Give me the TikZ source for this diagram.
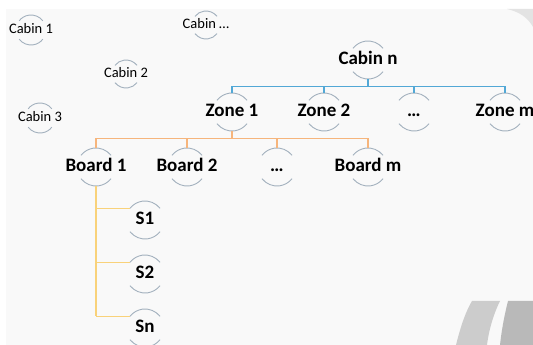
\documentclass[tikz,border=0pt]{standalone}
\usepackage{fontspec}
\setmainfont{Carlito}
\definecolor{arcgray}{HTML}{A3B1BE}
\definecolor{zoneblue}{HTML}{52A8D6}
\definecolor{boardorange}{HTML}{F6B57C}
\definecolor{sensoryellow}{HTML}{F9D27A}
\definecolor{pagebg}{HTML}{F9F9F9}
\begin{document}
\begin{tikzpicture}[x=1pt, y=1pt,
    lvl/.style={minimum height=38pt, inner sep=0pt, text height=12pt, text depth=2pt,
        font=\bfseries\fontsize{19}{21}\selectfont},
    cab/.style={minimum height=30pt, inner sep=0pt, text height=9pt, text depth=2pt,
        font=\fontsize{14.5}{16}\selectfont},
    arcline/.style={draw=arcgray, line width=.9pt},
    link/.style={line width=1.2pt}]
\useasboundingbox (0,0) rectangle (533,345);
\fill[white] (0,0) rectangle (533,345);
\fill[pagebg] (6,0) rectangle (533,336);
% corner decorations
\fill[gray!22] (507,336) .. controls (520,333) and (528,327) .. (533,318) -- (533,336) -- cycle;
\fill[gray!40] (456,0) .. controls (461,20) and (466,34) .. (472,44) -- (500,44) .. controls (494,32) and (489,16) .. (487,0) -- cycle;
\fill[gray!55] (500,0) .. controls (502,18) and (505,32) .. (508,44) -- (533,44) -- (533,0) -- cycle;

% cabins
\node[cab] (C1) at (31,315) {Cabin 1};
\node[cab] (Cd) at (206,320) {Cabin …};
\node[cab] (C2) at (126,271) {Cabin 2};
\node[cab] (C3) at (40,227) {Cabin 3};
\node[lvl] (Cn) at (368,285) {Cabin n};

% zones
\foreach \n/\x/\txt in {Z1/232/Zone 1, Z2/324/Zone 2, Zd/414/…, Zm/505/Zone m}
    \node[lvl] (\n) at (\x,233) {\txt};

% boards
\foreach \n/\x/\txt in {B1/96/Board 1, B2/187/Board 2, Bd/277/…, Bm/368/Board m}
    \node[lvl] (\n) at (\x,178) {\txt};

% sensors
\foreach \n/\y/\txt in {S1/125/S1, S2/71/S2, Sn/17/Sn}
    \node[lvl] (\n) at (145,\y) {\txt};

% the half circles round every node
\foreach \n/\r in {C1/15, Cd/14, C2/14, C3/15, Cn/19, Z1/19, Z2/19, Zd/19, Zm/19,
                   B1/19, B2/19, Bd/19, Bm/19, S1/19, S2/19, Sn/19}
{
    \draw[arcline] ([shift={(38:\r)}]\n.center) arc (38:142:\r) coordinate (\n-tl);
    \draw[arcline] ([shift={(218:\r)}]\n.center) arc (218:322:\r);
}

% cabin -> zones
\draw[link, zoneblue] (Cn.south) -- ++(0,-7) coordinate (zbus);
\draw[link, zoneblue] (Z1.north |- zbus) -- (Zm.north |- zbus);
\foreach \n in {Z1, Z2, Zd, Zm}
    \draw[link, zoneblue] (\n.north |- zbus) -- (\n.north);

% zone -> boards
\draw[link, boardorange] (Z1.south) -- ++(0,-7) coordinate (bbus);
\draw[link, boardorange] (B1.north |- bbus) -- (Bm.north |- bbus);
\foreach \n in {B1, B2, Bd, Bm}
    \draw[link, boardorange] (\n.north |- bbus) -- (\n.north);

% board -> sensors
\draw[link, sensoryellow] (B1.south) -- (B1.south |- Sn-tl);
\foreach \n in {S1, S2, Sn}
    \draw[link, sensoryellow] (B1.south |- \n-tl) -- (\n-tl);
\end{tikzpicture}
\end{document}
